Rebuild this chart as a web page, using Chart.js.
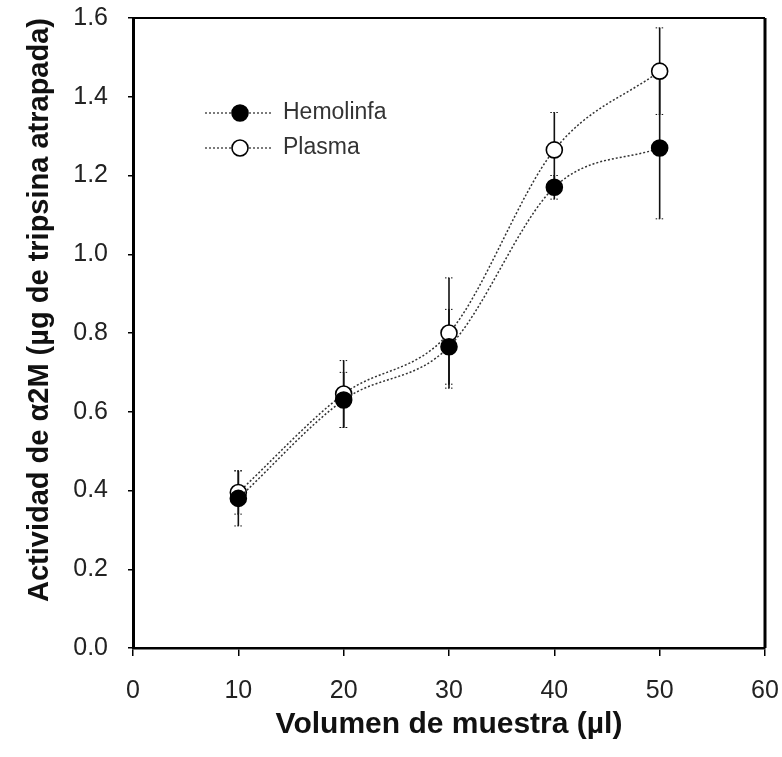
<!DOCTYPE html>
<html>
<head>
<meta charset="utf-8">
<script src="https://cdn.jsdelivr.net/npm/chart.js@4.4.0/dist/chart.umd.min.js"></script>
<style>
    body { margin: 0; background: #fff; }
    #grafico { display: block; }
</style>
</head>
<body>
<canvas id="grafico" width="782" height="757"></canvas>
<script>
const volumenes = [10, 20, 30, 40, 50];
const hemolinfa = [0.38, 0.63, 0.765, 1.17, 1.27];
const errorHemolinfa = [0.07, 0.07, 0.095, 0.03, 0.18];
const plasma = [0.395, 0.645, 0.80, 1.265, 1.465];
const errorPlasma = [0.055, 0.085, 0.14, 0.095, 0.11];
const ticksX = [0, 10, 20, 30, 40, 50, 60];
const ticksY = [0, 0.2, 0.4, 0.6, 0.8, 1.0, 1.2, 1.4, 1.6];

function puntos(valores) {
    return volumenes.map((v, i) => ({ x: v, y: valores[i] }));
}

// barras de error, dibujadas antes de los marcadores
const barrasError = {
    id: 'barrasError',
    beforeDatasetsDraw(chart) {
        const ctx = chart.ctx;
        const x = chart.scales.x;
        const y = chart.scales.y;
        const series = [[hemolinfa, errorHemolinfa], [plasma, errorPlasma]];
        ctx.save();
        series.forEach(([valores, errores]) => {
            volumenes.forEach((v, i) => {
                const px = x.getPixelForValue(v);
                const arriba = y.getPixelForValue(valores[i] + errores[i]);
                const abajo = y.getPixelForValue(valores[i] - errores[i]);
                ctx.strokeStyle = '#111';
                ctx.lineWidth = 1.6;
                ctx.beginPath();
                ctx.moveTo(px, arriba);
                ctx.lineTo(px, abajo);
                ctx.stroke();
                ctx.lineWidth = 1;
                ctx.setLineDash([1.5, 1.5]);
                ctx.beginPath();
                ctx.moveTo(px - 4, arriba);
                ctx.lineTo(px + 4, arriba);
                ctx.moveTo(px - 4, abajo);
                ctx.lineTo(px + 4, abajo);
                ctx.stroke();
                ctx.setLineDash([]);
            });
        });
        ctx.restore();
    }
};

// marco completo y leyenda dentro del area
const marcoLeyenda = {
    id: 'marcoLeyenda',
    afterDraw(chart) {
        const ctx = chart.ctx;
        const a = chart.chartArea;
        ctx.save();
        ctx.strokeStyle = '#000';
        ctx.lineWidth = 2;
        ctx.beginPath();
        ctx.moveTo(a.left, a.top);
        ctx.lineTo(a.right, a.top);
        ctx.stroke();
        ctx.lineWidth = 3;
        ctx.beginPath();
        ctx.moveTo(a.right, a.top);
        ctx.lineTo(a.right, a.bottom);
        ctx.stroke();

        const filas = [
            { texto: 'Hemolinfa', relleno: '#000', y: a.top + 95 },
            { texto: 'Plasma', relleno: '#fff', y: a.top + 130 }
        ];
        filas.forEach(f => {
            const cx = a.left + 107;
            ctx.strokeStyle = '#444';
            ctx.lineWidth = 1.4;
            ctx.setLineDash([2, 2]);
            ctx.beginPath();
            ctx.moveTo(a.left + 72, f.y);
            ctx.lineTo(a.left + 140, f.y);
            ctx.stroke();
            ctx.setLineDash([]);
            ctx.fillStyle = f.relleno;
            ctx.strokeStyle = '#000';
            ctx.lineWidth = 1.6;
            ctx.beginPath();
            ctx.arc(cx, f.y, 8, 0, Math.PI * 2);
            ctx.fill();
            ctx.stroke();
            ctx.fillStyle = '#333';
            ctx.font = '23px "Liberation Sans", Arial, sans-serif';
            ctx.textBaseline = 'middle';
            ctx.fillText(f.texto, a.left + 150, f.y);
        });
        ctx.restore();
    }
};

const estiloLinea = {
    borderColor: '#333',
    borderWidth: 1.5,
    borderDash: [2, 2],
    cubicInterpolationMode: 'monotone',
    pointRadius: 8,
    pointBorderColor: '#000',
    pointBorderWidth: 1.6
};

new Chart(document.getElementById('grafico'), {
    type: 'line',
    data: {
        datasets: [
            Object.assign({ label: 'Hemolinfa', data: puntos(hemolinfa), pointBackgroundColor: '#000' }, estiloLinea),
            Object.assign({ label: 'Plasma', data: puntos(plasma), pointBackgroundColor: '#fff' }, estiloLinea)
        ]
    },
    options: {
        responsive: false,
        animation: false,
        layout: { padding: { top: 18, right: 17, left: 0, bottom: 0 } },
        plugins: {
            legend: { display: false },
            tooltip: { enabled: false }
        },
        scales: {
            x: {
                type: 'linear',
                min: 0,
                max: 60,
                afterFit: s => { s.height = 109; s.paddingLeft = 0; s.paddingRight = 0; },
                afterBuildTicks: s => { s.ticks = ticksX.map(v => ({ value: v })); },
                grid: { drawOnChartArea: false, drawTicks: true, tickLength: 8, color: '#000', lineWidth: 1.5 },
                border: { display: true, color: '#000', width: 2.5 },
                ticks: {
                    color: '#222',
                    padding: 20,
                    font: { family: '"Liberation Sans", Arial, sans-serif', size: 25 }
                },
                title: {
                    display: true,
                    text: 'Volumen de muestra (µl)',
                    color: '#111',
                    padding: { top: 0, bottom: 14 },
                    font: { family: '"Liberation Sans", Arial, sans-serif', size: 30, weight: 'bold' }
                }
            },
            y: {
                min: 0,
                max: 1.6,
                afterFit: s => { s.width = 133; s.paddingTop = 0; s.paddingBottom = 0; },
                afterBuildTicks: s => { s.ticks = ticksY.map(v => ({ value: v })); },
                grid: { drawOnChartArea: false, drawTicks: true, tickLength: 5, color: '#000', lineWidth: 1.5 },
                border: { display: true, color: '#000', width: 3 },
                ticks: {
                    color: '#222',
                    padding: 20,
                    callback: v => v.toFixed(1),
                    font: { family: '"Liberation Sans", Arial, sans-serif', size: 25 }
                },
                title: {
                    display: true,
                    text: 'Actividad de α2M (µg de tripsina atrapada)',
                    align: 'end',
                    color: '#111',
                    padding: { top: 23, bottom: 0 },
                    font: { family: '"Liberation Sans", Arial, sans-serif', size: 29, weight: 'bold' }
                }
            }
        }
    },
    plugins: [barrasError, marcoLeyenda]
});
</script>
</body>
</html>
